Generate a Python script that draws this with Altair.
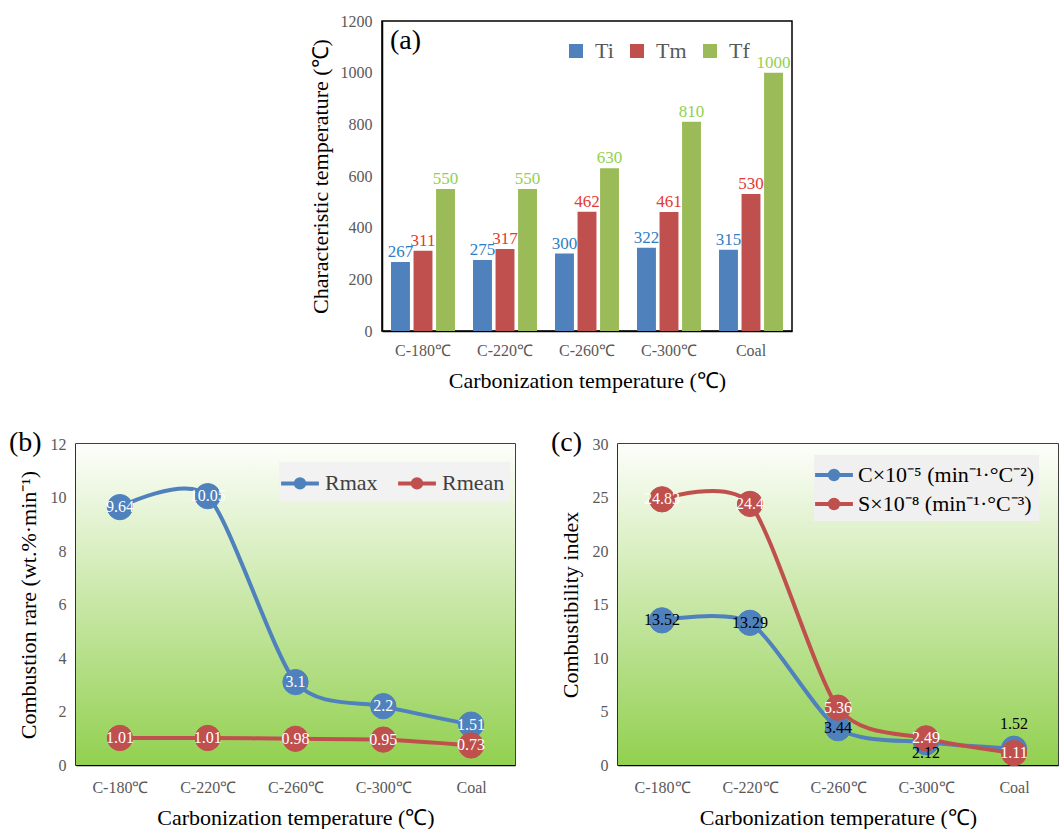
import altair as alt
import pandas as pd

# ---------------- data ----------------
categories = ["C-180℃", "C-220℃", "C-260℃", "C-300℃", "Coal"]

series_a = ["Ti", "Tm", "Tf"]
ti = [267, 275, 300, 322, 315]
tm = [311, 317, 462, 461, 530]
tf = [550, 550, 630, 810, 1000]

series_b = ["Rmax", "Rmean"]
rmax = [9.64, 10.05, 3.1, 2.2, 1.51]
rmean = [1.01, 1.01, 0.98, 0.95, 0.73]

series_c = ["C×10⁻⁵ (min⁻¹·°C⁻²)", "S×10⁻⁸ (min⁻¹·°C⁻³)"]
c_index = [13.52, 13.29, 3.44, 2.12, 1.52]
s_index = [24.83, 24.4, 5.36, 2.49, 1.11]

y_ticks_a = [0, 200, 400, 600, 800, 1000, 1200]
y_ticks_b = [0, 2, 4, 6, 8, 10, 12]
y_ticks_c = [0, 5, 10, 15, 20, 25, 30]

FONT = "Liberation Serif"
BLUE, RED, GREEN = "#4F81BD", "#C0504D", "#9BBB59"
LABEL_COLORS_A = ["#2F7EC5", "#E5392E", "#92D050"]
GRAY = "#595959"


def long_df(names, arrays):
    rows = []
    for name, arr in zip(names, arrays):
        for cat, v in zip(categories, arr):
            rows.append({"cat": cat, "series": name, "value": v, "label": str(v)})
    return pd.DataFrame(rows)


dfa = long_df(series_a, [ti, tm, tf])
dfb = long_df(series_b, [rmax, rmean])
dfc = long_df(series_c, [c_index, s_index])

# ---------------- common pieces ----------------
W_A, H_A = 410, 310
W_B, H_B = 439, 321
W_C, H_C = 440, 321
IND = dict(color="independent", fill="independent", stroke="independent")


def x_axis(label_pad):
    return alt.Axis(title="Carbonization temperature (℃)", labelAngle=0, ticks=False,
                    domainColor="black", domainWidth=1.5, labelPadding=label_pad,
                    titlePadding=12, labelColor=GRAY, labelFontSize=16,
                    titleFontSize=22, titleColor="black", labelFont=FONT, titleFont=FONT,
                    titleFontWeight="normal")


def y_axis(title, values, title_pad):
    return alt.Axis(title=title, values=values, grid=False, ticks=False, format="d",
                    domainColor="black", domainWidth=1.5, labelPadding=10,
                    titlePadding=title_pad, labelColor=GRAY, labelFontSize=16,
                    titleFontSize=22, titleColor="black", labelFont=FONT, titleFont=FONT,
                    titleFontWeight="normal")


def tag(text, dx, dy):
    return alt.Chart(pd.DataFrame({"t": [text]})).mark_text(
        font=FONT, fontSize=28, align="left", baseline="middle", color="black"
    ).encode(x=alt.value(dx), y=alt.value(dy), text="t:N")


# ---------------- panel (a) ----------------
xa = alt.X("cat:N", sort=categories,
           scale=alt.Scale(paddingInner=0.22, paddingOuter=0.11), axis=x_axis(11))
ya = alt.Y("value:Q", scale=alt.Scale(domain=[0, 1200], nice=False),
           axis=y_axis("Characteristic temperature (℃)", y_ticks_a, 8))
xoff = alt.XOffset("series:N", sort=series_a,
                   scale=alt.Scale(domain=series_a, paddingInner=0.16, paddingOuter=0))

bars = alt.Chart(dfa).mark_bar().encode(
    x=xa, y=ya, xOffset=xoff,
    color=alt.Color("series:N", sort=series_a,
                    scale=alt.Scale(domain=series_a, range=[BLUE, RED, GREEN]),
                    legend=alt.Legend(title=None, orient="none", legendX=183, legendY=19,
                                      direction="horizontal", symbolType="square",
                                      symbolSize=196, symbolStrokeWidth=0,
                                      labelFont=FONT, labelFontSize=22, labelColor=GRAY,
                                      labelOffset=8, columnPadding=12)),
)
bar_labels = alt.Chart(dfa).mark_text(dy=-10, font=FONT, fontSize=17).encode(
    x=xa, y=ya, xOffset=xoff, text="label:N",
    color=alt.Color("series:N", sort=series_a,
                    scale=alt.Scale(domain=series_a, range=LABEL_COLORS_A), legend=None),
)
panel_a = alt.layer(bars, bar_labels, tag("(a)", 8, 20)).resolve_scale(
    color="independent").properties(width=W_A, height=H_A)

spacer = alt.Chart(pd.DataFrame({"v": [0]})).mark_point(opacity=0).encode(
    x=alt.X("v:Q", axis=None), y=alt.Y("v:Q", axis=None)
).properties(width=296, height=H_A, view=alt.ViewBackground(stroke="transparent"))

top_row = alt.hconcat(spacer, panel_a, spacing=10, bounds="flush").resolve_scale(**IND)

# ---------------- line panels ----------------
SYMBOL = ("M-1.35,0L1.35,0M-0.3,0A0.3,0.3,0,1,1,0.3,0"
          "A0.3,0.3,0,1,1,-0.3,0Z")
gradient = alt.LinearGradient(
    gradient="linear",
    stops=[alt.GradientStop(color="#FDFEFB", offset=0),
           alt.GradientStop(color="#92D050", offset=1)],
    x1=0, x2=0, y1=0, y2=1)


def line_panel(df, names, ymax, yvals, ytitle, legend, width, height, tagtext, label_layers):
    x = alt.X("cat:N", sort=categories, axis=x_axis(14))
    y = alt.Y("value:Q", scale=alt.Scale(domain=[0, ymax], nice=False),
              axis=y_axis(ytitle, yvals, 10))
    sc = alt.Scale(domain=names, range=[BLUE, RED])
    bg = alt.Chart(pd.DataFrame({"v": [0]})).mark_rect(color=gradient).encode(
        x=alt.value(0), x2=alt.value(width), y=alt.value(0), y2=alt.value(height))
    lines = alt.Chart(df).mark_line(interpolate="cardinal", tension=0.25, strokeWidth=4).encode(
        x=x, y=y, stroke=alt.Stroke("series:N", sort=names, scale=sc, legend=legend))
    pts = alt.Chart(df).mark_point(filled=True, size=640, opacity=1, strokeWidth=1).encode(
        x=x, y=y,
        fill=alt.Fill("series:N", sort=names, scale=sc, legend=legend),
        stroke=alt.Stroke("series:N", sort=names, scale=sc, legend=legend))
    texts = [lay.encode(x=x, y=y, text="label:N") for lay in label_layers(df)]
    return alt.layer(bg, lines, pts, *texts, tag(tagtext, -67, -1)).properties(
        width=width, height=height)


def labels_b(df):
    return [alt.Chart(df).mark_text(font=FONT, fontSize=16, color="white")]


def labels_c(df):
    base = alt.Chart(df)
    cname, sname = series_c
    return [
        base.transform_filter((alt.datum.series == cname) & (alt.datum.value > 3)
                              ).mark_text(font=FONT, fontSize=16, color="black"),
        base.transform_filter((alt.datum.series == cname) & (alt.datum.cat == "C-300℃")
                              ).mark_text(font=FONT, fontSize=16, color="black", dy=11),
        base.transform_filter((alt.datum.series == cname) & (alt.datum.cat == "Coal")
                              ).mark_text(font=FONT, fontSize=16, color="black", dy=-25),
        base.transform_filter(alt.datum.series == sname
                              ).mark_text(font=FONT, fontSize=16, color="white"),
    ]


legend_b = alt.Legend(title=None, orient="none", legendX=203, legendY=18,
                      direction="horizontal", symbolType=SYMBOL, symbolSize=784,
                      symbolStrokeWidth=4, labelFont=FONT, labelFontSize=22,
                      labelColor="#404040", labelOffset=9, columnPadding=12,
                      fillColor="#F2F2F2", padding=5)
legend_c = alt.Legend(title=None, orient="none", legendX=196, legendY=11,
                      direction="vertical", symbolType=SYMBOL, symbolSize=784,
                      symbolStrokeWidth=4, labelFont=FONT, labelFontSize=22,
                      labelColor="black", labelOffset=8, rowPadding=0,
                      fillColor="#F0F0F0", padding=4, labelLimit=400)

panel_b = line_panel(dfb, series_b, 12, y_ticks_b, "Combustion rare (wt.%·min⁻¹)",
                     legend_b, W_B, H_B, "(b)", labels_b)
panel_c = line_panel(dfc, series_c, 30, y_ticks_c, "Combustibility index",
                     legend_c, W_C, H_C, "(c)", labels_c)

bottom_row = alt.hconcat(panel_b, panel_c, spacing=103, bounds="flush").resolve_scale(**IND)

chart = alt.vconcat(top_row, bottom_row, spacing=36).resolve_scale(**IND).properties(
    padding={"left": 8, "top": 12, "right": 0, "bottom": 0},
    background="white",
).configure_view(stroke="black", strokeWidth=1.5)

chart.save("out.html", embed_options={"renderer": "svg", "actions": False})
